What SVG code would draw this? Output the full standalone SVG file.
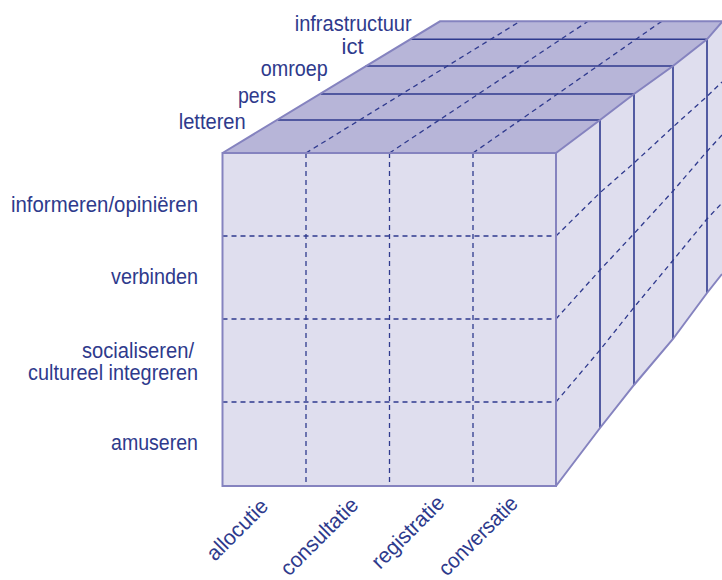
<svg xmlns="http://www.w3.org/2000/svg" width="722" height="580" viewBox="0 0 722 580">
<style>
.face{fill:#dfdeee;}
.top{fill:#b7b5d8;}
.outline{fill:none;stroke:#8583bf;stroke-width:2;stroke-linejoin:miter;}
.sep{fill:none;stroke:#2f3a8e;stroke-width:1.6;}
.dash{fill:none;stroke:#2f3a8e;stroke-width:1.3;stroke-dasharray:5 4;}
.lbl{font-family:"Liberation Sans",Arial,sans-serif;font-size:21.5px;fill:#2e3a8c;}
.end{text-anchor:end;}
</style>
<g id="cube">
<polygon id="side-face" class="face" points="556,153 600,120 634,94 673,66 707,39.3 722,22 722,274 707,293 673,339 634,385 600,428 556,486"/>
<polygon id="top-face" class="top" points="222.5,153 440,21.3 722,21.3 722,22 707,39.3 673,66 634,94 600,120 556,153"/>
<rect id="front-face" class="face" x="222.5" y="153" width="333.5" height="333"/>
</g>
<g id="connectors">
<g id="front-grid">
<line class="dash" x1="306" y1="153" x2="306" y2="486"/>
<line class="dash" x1="389.5" y1="153" x2="389.5" y2="486"/>
<line class="dash" x1="473" y1="153" x2="473" y2="486"/>
<line class="dash" x1="222.5" y1="236" x2="556" y2="236"/>
<line class="dash" x1="222.5" y1="319" x2="556" y2="319"/>
<line class="dash" x1="222.5" y1="402" x2="556" y2="402"/>
</g>
<g id="top-grid">
<line class="dash" x1="306" y1="153" x2="520" y2="21.3"/>
<line class="dash" x1="389.5" y1="153" x2="588" y2="21.3"/>
<line class="dash" x1="473" y1="153" x2="661.7" y2="21.3"/>
<line class="sep" x1="278" y1="120" x2="600" y2="120"/>
<line class="sep" x1="321" y1="94" x2="634" y2="94"/>
<line class="sep" x1="365.5" y1="66" x2="673" y2="66"/>
<line class="sep" x1="410.5" y1="39.3" x2="707" y2="39.3"/>
</g>
<g id="side-grid">
<polyline class="dash" points="556,236 600,192.7 634.3,162.7 673.3,126.7 706.7,96.7 722,82"/>
<polyline class="dash" points="556,319 600,270 634.3,233.3 673.3,190.7 706.7,151.7 722,135"/>
<polyline class="dash" points="556,402 600,350 634.3,307 673.3,260 706.7,219.3 722,203"/>
<line class="sep" x1="600" y1="120" x2="600" y2="428"/>
<line class="sep" x1="634" y1="94" x2="634" y2="385"/>
<line class="sep" x1="673" y1="66" x2="673" y2="339"/>
<line class="sep" x1="707" y1="39.3" x2="707" y2="293"/>
</g>
<g id="edges">
<rect class="outline" x="222.5" y="153" width="333.5" height="333"/>
<polyline class="outline" points="222.5,153 440,21.3 722,21.3"/>
<polyline class="outline" points="556,153 600,120 634,94 673,66 707,39.3 722,22"/>
<polyline class="outline" points="556,486 600,428 634,385 673,339 707,293 722,274"/>
</g>
</g>
<g id="labels-rows">
<text class="lbl end" x="198" y="212.3" textLength="187" lengthAdjust="spacingAndGlyphs">informeren/opiniëren</text>
<text class="lbl end" x="198" y="284.3" textLength="87" lengthAdjust="spacingAndGlyphs">verbinden</text>
<text class="lbl end" x="194" y="358.3" textLength="112" lengthAdjust="spacingAndGlyphs">socialiseren/</text>
<text class="lbl end" x="198" y="380" textLength="170" lengthAdjust="spacingAndGlyphs">cultureel integreren</text>
<text class="lbl end" x="198" y="450" textLength="87" lengthAdjust="spacingAndGlyphs">amuseren</text>
</g>
<g id="labels-layers">
<text class="lbl" x="294.7" y="30.7" textLength="117" lengthAdjust="spacingAndGlyphs">infrastructuur</text>
<text class="lbl" x="341.5" y="54.3" textLength="22" lengthAdjust="spacingAndGlyphs">ict</text>
<text class="lbl" x="260.8" y="76" textLength="67" lengthAdjust="spacingAndGlyphs">omroep</text>
<text class="lbl" x="238" y="103" textLength="38" lengthAdjust="spacingAndGlyphs">pers</text>
<text class="lbl" x="178.7" y="129" textLength="67" lengthAdjust="spacingAndGlyphs">letteren</text>
</g>
<g id="labels-columns">
<text class="lbl" transform="translate(215,562) rotate(-45)" textLength="77" lengthAdjust="spacingAndGlyphs">allocutie</text>
<text class="lbl" transform="translate(289,577) rotate(-45)" textLength="100" lengthAdjust="spacingAndGlyphs">consultatie</text>
<text class="lbl" transform="translate(380,570) rotate(-45)" textLength="93" lengthAdjust="spacingAndGlyphs">registratie</text>
<text class="lbl" transform="translate(447,577) rotate(-45)" textLength="102" lengthAdjust="spacingAndGlyphs">conversatie</text>
</g>
</svg>
